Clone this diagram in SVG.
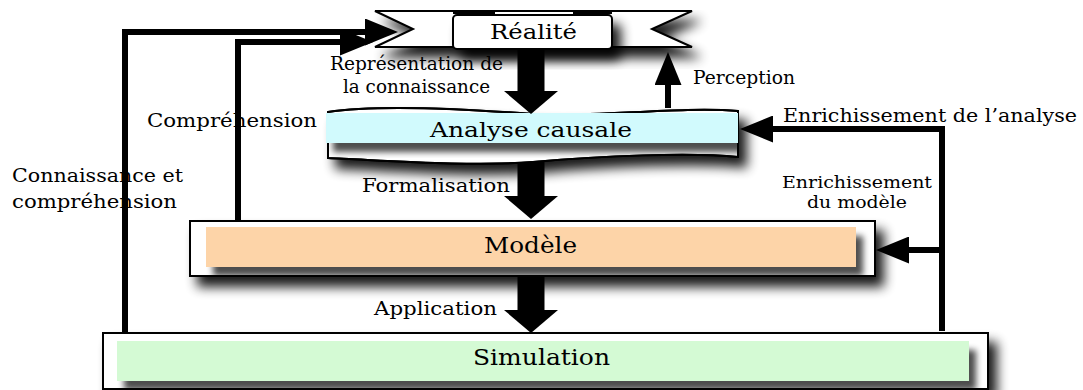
<svg xmlns="http://www.w3.org/2000/svg" width="1083" height="390" viewBox="0 0 1083 390">
<defs>
<style>
.lbl{font-family:"DejaVu Serif","Liberation Serif",serif;fill:#000}
.box{fill:#fff;stroke:#000;stroke-width:2}
.edge{fill:none;stroke:#000;stroke-width:6;stroke-linejoin:miter}
.big{fill:none;stroke:#000;stroke-width:27}
</style>
<filter id="sh" x="-10%" y="-30%" width="125%" height="190%">
<feGaussianBlur in="SourceAlpha" stdDeviation="6"/>
<feOffset dx="8" dy="10" result="o"/>
<feComponentTransfer><feFuncA type="linear" slope="0.9"/></feComponentTransfer>
<feMerge><feMergeNode/><feMergeNode in="SourceGraphic"/></feMerge>
</filter>
<filter id="ish" x="-5%" y="-20%" width="115%" height="170%">
<feGaussianBlur in="SourceAlpha" stdDeviation="3"/>
<feOffset dx="7" dy="9"/>
<feComponentTransfer><feFuncA type="linear" slope="0.7"/></feComponentTransfer>
<feMerge><feMergeNode/><feMergeNode in="SourceGraphic"/></feMerge>
</filter>
<clipPath id="cM"><rect x="190" y="221" width="685" height="55"/></clipPath>
<clipPath id="cS"><rect x="103" y="333" width="885" height="56"/></clipPath>
<clipPath id="cA"><path d="M328,112 C380,104 480,110 533,114 C590,118 680,106 738,111 L738,157 C690,152 600,156 533,162 C470,167 380,160 328,158 Z"/></clipPath>
<marker id="ah" markerUnits="userSpaceOnUse" markerWidth="33" markerHeight="27" refX="0" refY="13.5" orient="auto" viewBox="0 0 33 27">
<path d="M0,0 L33,13.5 L0,27 Z" fill="#000"/>
</marker>
<marker id="bh" markerUnits="userSpaceOnUse" markerWidth="23" markerHeight="54" refX="0" refY="27" orient="auto" viewBox="0 0 23 54">
<path d="M0,0 L23,27 L0,54 Z" fill="#000"/>
</marker>
</defs>
<rect width="1083" height="390" fill="#fff"/>

<g id="realite">
<g filter="url(#sh)">
<path class="box" d="M375,11 L692,11 L652,29 L692,47 L375,47 L413,29 Z"/>
</g>
<path d="M453,12.5 H495 M573,12.5 H612" stroke="#000" stroke-width="3" fill="none"/>
<rect class="box" x="453" y="15" width="159" height="34" rx="4" filter="url(#sh)"/>
<text class="lbl" x="490" y="39" font-size="20" textLength="87" lengthAdjust="spacingAndGlyphs">Réalité</text>
</g>

<g id="analyse">
<path class="box" filter="url(#sh)" d="M328,112 C380,104 480,110 533,114 C590,118 680,106 738,111 L738,157 C690,152 600,156 533,162 C470,167 380,160 328,158 Z"/>
<g clip-path="url(#cA)">
<rect x="326" y="113" width="412" height="30" fill="#d1fafd" filter="url(#ish)"/>
</g>
<path d="M328,112 C380,104 480,110 533,114 C590,118 680,106 738,111 L738,157 C690,152 600,156 533,162 C470,167 380,160 328,158 Z" fill="none" stroke="#000" stroke-width="2"/>
<rect x="326" y="113" width="412" height="30" fill="#d1fafd"/>
<text class="lbl" x="430" y="137" font-size="21" textLength="202" lengthAdjust="spacingAndGlyphs">Analyse causale</text>
</g>

<g id="modele">
<rect class="box" x="190" y="221" width="685" height="55" filter="url(#sh)"/>
<g clip-path="url(#cM)">
<rect x="206" y="227" width="650" height="40" fill="#fdd4a8" filter="url(#ish)"/>
</g>
<rect x="190" y="221" width="685" height="55" fill="none" stroke="#000" stroke-width="2"/>
<text class="lbl" x="484" y="253" font-size="22" textLength="93" lengthAdjust="spacingAndGlyphs">Modèle</text>
</g>

<g id="simulation">
<rect class="box" x="103" y="333" width="885" height="56" filter="url(#sh)"/>
<g clip-path="url(#cS)">
<rect x="117" y="341" width="852" height="40" fill="#d4fad4" filter="url(#ish)"/>
</g>
<rect x="103" y="333" width="885" height="56" fill="none" stroke="#000" stroke-width="2"/>
<text class="lbl" x="473" y="365" font-size="22" textLength="137" lengthAdjust="spacingAndGlyphs">Simulation</text>
</g>

<g id="connectors">
<path class="big" d="M531,49 V91" marker-end="url(#bh)"/>
<path class="big" d="M531,162 V196" marker-end="url(#bh)"/>
<path class="big" d="M531,277 V310" marker-end="url(#bh)"/>
<path class="edge" d="M125,333 V32 H365" marker-end="url(#ah)"/>
<path class="edge" d="M238,221 V42 H340" marker-end="url(#ah)"/>
<path class="edge" d="M668,108 V85" marker-end="url(#ah)"/>
<path class="edge" d="M942,331 V129 H773" marker-end="url(#ah)"/>
<path class="edge" d="M942,250 H909" marker-end="url(#ah)"/>
</g>

<g id="labels">
<text class="lbl" x="330" y="70" font-size="18" textLength="173" lengthAdjust="spacingAndGlyphs">Représentation de</text>
<text class="lbl" x="343" y="93" font-size="18" textLength="147" lengthAdjust="spacingAndGlyphs">la connaissance</text>
<text class="lbl" x="693" y="84" font-size="18" textLength="102" lengthAdjust="spacingAndGlyphs">Perception</text>
<text class="lbl" x="147" y="127" font-size="19" textLength="170" lengthAdjust="spacingAndGlyphs">Compréhension</text>
<text class="lbl" x="783" y="122" font-size="19" textLength="294" lengthAdjust="spacingAndGlyphs">Enrichissement de l’analyse</text>
<text class="lbl" x="12" y="182" font-size="19" textLength="171" lengthAdjust="spacingAndGlyphs">Connaissance et</text>
<text class="lbl" x="12" y="208" font-size="19" textLength="165" lengthAdjust="spacingAndGlyphs">compréhension</text>
<text class="lbl" x="362" y="192" font-size="19" textLength="148" lengthAdjust="spacingAndGlyphs">Formalisation</text>
<text class="lbl" x="782" y="188" font-size="17" textLength="150" lengthAdjust="spacingAndGlyphs">Enrichissement</text>
<text class="lbl" x="807" y="208" font-size="17" textLength="100" lengthAdjust="spacingAndGlyphs">du modèle</text>
<text class="lbl" x="374" y="315" font-size="19" textLength="123" lengthAdjust="spacingAndGlyphs">Application</text>
</g>
</svg>
